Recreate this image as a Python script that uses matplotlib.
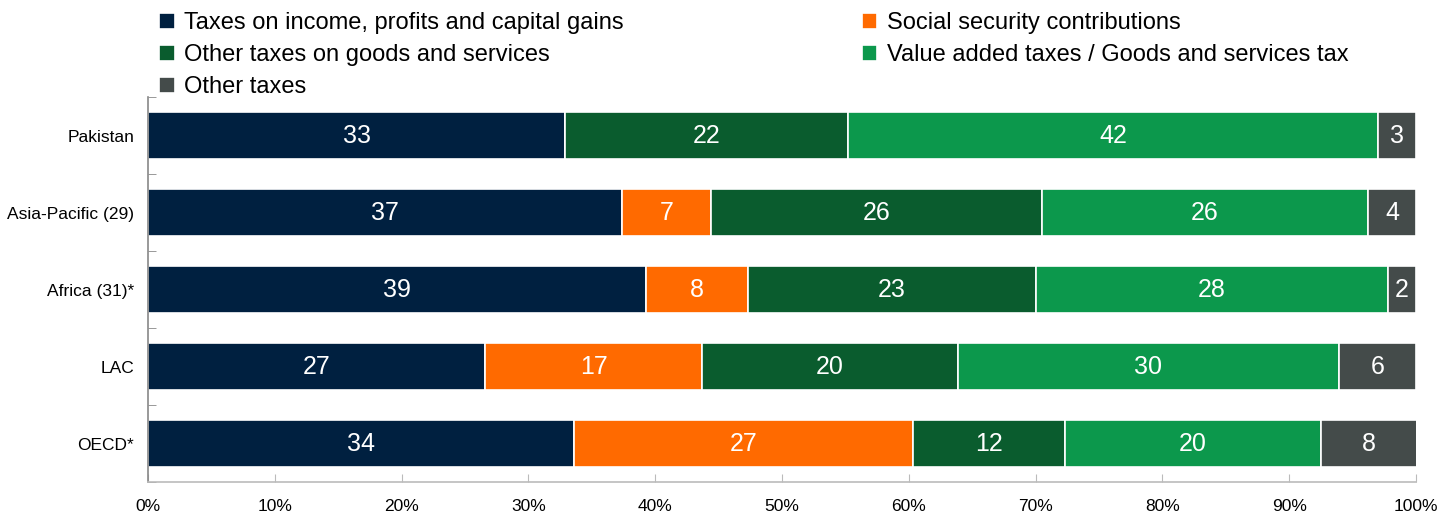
import matplotlib
matplotlib.use("Agg")
import matplotlib.pyplot as plt
import numpy as np

plt.rcParams['font.family'] = ['Liberation Sans', 'DejaVu Sans']

regions = ["Pakistan", "Asia-Pacific (29)", "Africa (31)*", "LAC", "OECD*"]
income = [32.9, 37.4, 39.3, 26.6, 33.6]
social = [0.0, 7.0, 8.0, 17.1, 26.7]
other_goods = [22.3, 26.1, 22.7, 20.2, 12.0]
vat = [41.8, 25.7, 27.8, 30.0, 20.2]
other = [3.0, 3.8, 2.2, 6.1, 7.6]

series = [
    ("Taxes on income, profits and capital gains", income, "#002040"),
    ("Social security contributions", social, "#ff6a00"),
    ("Other taxes on goods and services", other_goods, "#0a5c2e"),
    ("Value added taxes / Goods and services tax", vat, "#0c984c"),
    ("Other taxes", other, "#444b4a"),
]

fig = plt.figure(figsize=(14.53, 5.17), dpi=100)
ax = fig.add_axes([148/1453, 1-482/517, (1416-148)/1453, (482-97)/517])

y = np.arange(len(regions))
left = np.zeros(len(regions))
handles = {}
for name, vals, col in series:
    vals = np.array(vals)
    b = ax.barh(y, vals, left=left, height=0.6, color=col, edgecolor="white", linewidth=1.2, label=name)
    handles[name] = b
    for yi, l, v in zip(y, left, vals):
        if v > 0:
            ax.text(l + v/2, yi, f"{v:.0f}", ha="center", va="center", color="white", fontsize=18)
    left = left + vals

ax.set_xlim(0, 100)
ax.set_ylim(len(regions) - 0.5, -0.5)
ax.set_yticks(y)
ax.set_yticklabels(regions, fontsize=12.5)
ax.set_yticks(np.arange(-0.5, len(regions)), minor=True)
ax.tick_params(axis="y", which="major", length=0, pad=10)
ax.tick_params(axis="y", which="minor", direction="in", length=6, color="#888888")
ax.set_xticks(np.arange(0, 101, 10))
ax.set_xticklabels([f"{v}%" for v in range(0, 101, 10)], fontsize=12.5)
ax.tick_params(axis="x", direction="in", length=6, color="#bbbbbb", pad=12)
for s in ["top", "right"]:
    ax.spines[s].set_visible(False)
ax.spines["left"].set_color("#888888")
ax.spines["bottom"].set_color("#bbbbbb")
ax.spines["left"].set_linewidth(1.2)
ax.spines["bottom"].set_linewidth(1.2)

order = [series[0][0], series[2][0], series[4][0], series[1][0], series[3][0]]
fig.legend([handles[n] for n in order], order, loc="upper left",
           bbox_to_anchor=(145/1453, 1.0 + 2/517), ncol=2, frameon=False, fontsize=17,
           handlelength=0.65, handleheight=0.65, handletextpad=0.4, columnspacing=10.1,
           labelspacing=0.42, borderaxespad=0.2)

fig.savefig("out.png", dpi=100)
